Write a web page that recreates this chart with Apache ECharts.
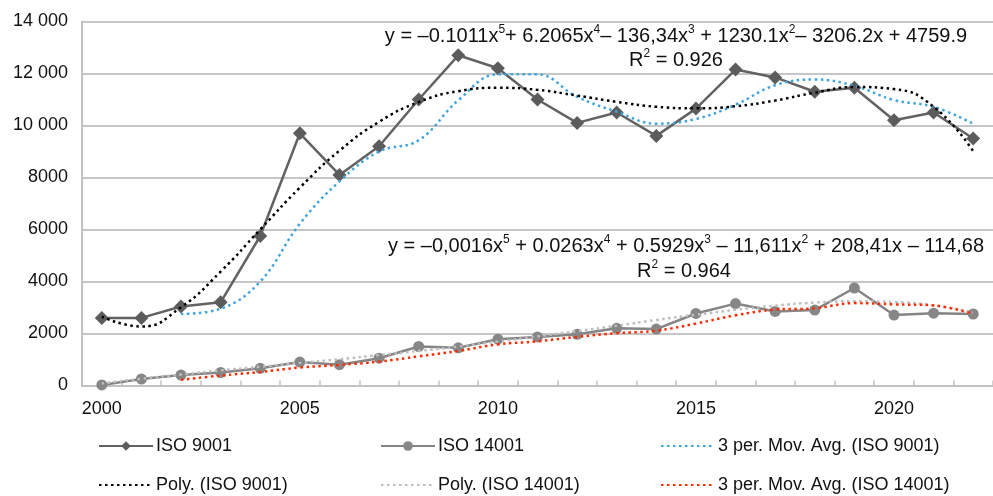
<!DOCTYPE html>
<html>
<head>
<meta charset="utf-8">
<script src="https://cdn.jsdelivr.net/npm/echarts@6/dist/echarts.min.js"></script>
<style>
  html, body { margin: 0; padding: 0; background: #fff; }
  #chart { width: 993px; height: 496px; }
</style>
</head>
<body>
<div id="chart"></div>
<script>
// ---- data ----
const years = ['2000','2001','2002','2003','2004','2005','2006','2007','2008','2009','2010','2011','2012','2013','2014','2015','2016','2017','2018','2019','2020','2021','2022'];
const iso9001 = [2600, 2600, 3040, 3200, 5750, 9700, 8100, 9200, 11000, 12700, 12200, 11000, 10100, 10500, 9600, 10650, 12150, 11850, 11300, 11450, 10200, 10500, 9500];
const iso14001 = [20, 250, 400, 500, 660, 900, 800, 1050, 1500, 1450, 1780, 1870, 1970, 2200, 2170, 2770, 3150, 2850, 2900, 3750, 2710, 2780, 2750];
const movAvg9001 = [null, null, 2750, 2950, 4000, 6220, 7850, 9000, 9430, 10970, 11970, 11970, 11100, 10530, 10070, 10250, 10800, 11550, 11770, 11530, 10980, 10720, 10070];
const movAvg14001 = [null, null, 220, 380, 520, 690, 790, 920, 1120, 1330, 1580, 1700, 1870, 2010, 2110, 2380, 2700, 2920, 2970, 3170, 3120, 3080, 2750];
const poly9001 = [2650, 2270, 3010, 4380, 6000, 7610, 9030, 10140, 10900, 11320, 11450, 11370, 11150, 10910, 10720, 10660, 10740, 10960, 11260, 11480, 11400, 10720, 9010];
const poly14001 = [80, 260, 420, 580, 720, 870, 1010, 1170, 1330, 1500, 1690, 1890, 2090, 2300, 2520, 2720, 2910, 3070, 3190, 3240, 3210, 3080, 2810];
const legendNames = ['ISO 9001', 'ISO 14001', '3 per. Mov. Avg. (ISO 9001)', 'Poly. (ISO 9001)', 'Poly. (ISO 14001)', '3 per. Mov. Avg. (ISO 14001)'];

const FONT = '"Liberation Sans", Arial, sans-serif';

const chart = echarts.init(document.getElementById('chart'), null, { renderer: 'canvas' });

const dotted = [2.5, 3.5];
const legendPos = [
  [98, 437], [380, 437], [660, 437],
  [98, 476], [380, 476], [660, 476]
];
const hasSymbol = [true, true, false, false, false, false];

const option = {
  animation: false,
  backgroundColor: '#fff',
  grid: { left: 82, top: 21.5, width: 919, height: 364 },
  legend: legendNames.map((n, i) => ({
    data: [n],
    left: legendPos[i][0],
    top: legendPos[i][1],
    padding: 0,
    itemWidth: 54,
    itemHeight: 12,
    itemGap: 0,
    selectedMode: false,
    itemStyle: hasSymbol[i] ? {} : { opacity: 0 },
    textStyle: { fontFamily: FONT, fontSize: 18, color: '#111', padding: [0, 0, 0, -2] }
  })),
  xAxis: {
    type: 'category',
    data: years,
    boundaryGap: true,
    axisLine: { lineStyle: { color: '#c2c2c2', width: 2 } },
    axisTick: { show: true, inside: true, length: 5, interval: 0, lineStyle: { color: '#c2c2c2', width: 1.5 } },
    axisLabel: { interval: 4, margin: 15, fontFamily: FONT, fontSize: 18, color: '#111' },
    splitLine: { show: false }
  },
  yAxis: {
    type: 'value',
    min: 0,
    max: 14000,
    interval: 2000,
    axisLine: { show: true, lineStyle: { color: '#c2c2c2', width: 2 } },
    axisTick: { show: false },
    axisLabel: {
      margin: 14,
      fontFamily: FONT,
      fontSize: 18,
      color: '#111',
      formatter: v => (v >= 10000 ? String(v).replace(/(\d+)(\d{3})$/, '$1 $2') : String(v))
    },
    splitLine: { lineStyle: { color: '#c6c6c6', width: 2 } }
  },
  series: [
    {
      name: 'ISO 9001', type: 'line', data: iso9001, z: 3,
      symbol: 'diamond', symbolSize: 14,
      lineStyle: { color: '#626262', width: 2.5 },
      itemStyle: { color: '#5c5c5c' }
    },
    {
      name: 'ISO 14001', type: 'line', data: iso14001, z: 3,
      symbol: 'circle', symbolSize: 11,
      lineStyle: { color: '#858585', width: 2.5 },
      itemStyle: { color: '#878787' }
    },
    {
      name: '3 per. Mov. Avg. (ISO 9001)', type: 'line', data: movAvg9001, z: 4,
      symbol: 'none', smooth: 0.4, connectNulls: false,
      lineStyle: { color: '#3fa4dd', width: 2.5, type: dotted },
      itemStyle: { color: '#3fa4dd' }
    },
    {
      name: 'Poly. (ISO 9001)', type: 'line', data: poly9001, z: 5,
      symbol: 'none', smooth: 0.5,
      lineStyle: { color: '#000000', width: 2.5, type: dotted },
      itemStyle: { color: '#000000' }
    },
    {
      name: 'Poly. (ISO 14001)', type: 'line', data: poly14001, z: 4,
      symbol: 'none', smooth: 0.5,
      lineStyle: { color: '#bdbdbd', width: 2.5, type: dotted },
      itemStyle: { color: '#bdbdbd' }
    },
    {
      name: '3 per. Mov. Avg. (ISO 14001)', type: 'line', data: movAvg14001, z: 5,
      symbol: 'none', smooth: 0.4,
      lineStyle: { color: '#ff2a00', width: 2.5, type: dotted },
      itemStyle: { color: '#ff2a00' }
    }
  ],
  graphic: [
    {
      type: 'text', z: 100,
      style: {
        x: 676, y: 35, align: 'center', verticalAlign: 'middle',
        text: '{a|y = –0.1011x}{s|5}{a|+ 6.2065x}{s|4}{a|– 136,34x}{s|3}{a| + 1230.1x}{s|2}{a|– 3206.2x + 4759.9}',
        rich: {
          a: { fontFamily: FONT, fontSize: 20, fill: '#111', lineHeight: 22, verticalAlign: 'bottom' },
          s: { fontFamily: FONT, fontSize: 12, fill: '#111', lineHeight: 22, verticalAlign: 'top' }
        }
      }
    },
    {
      type: 'text', z: 100,
      style: {
        x: 676, y: 59, align: 'center', verticalAlign: 'middle',
        text: '{a|R}{s|2}{a| = 0.926}',
        rich: {
          a: { fontFamily: FONT, fontSize: 20, fill: '#111', lineHeight: 22, verticalAlign: 'bottom' },
          s: { fontFamily: FONT, fontSize: 12, fill: '#111', lineHeight: 22, verticalAlign: 'top' }
        }
      }
    },
    {
      type: 'text', z: 100,
      style: {
        x: 686, y: 245, align: 'center', verticalAlign: 'middle',
        text: '{a|y = –0,0016x}{s|5}{a| + 0.0263x}{s|4}{a| + 0.5929x}{s|3}{a| – 11,611x}{s|2}{a| + 208,41x – 114,68}',
        rich: {
          a: { fontFamily: FONT, fontSize: 20, fill: '#111', lineHeight: 22, verticalAlign: 'bottom' },
          s: { fontFamily: FONT, fontSize: 12, fill: '#111', lineHeight: 22, verticalAlign: 'top' }
        }
      }
    },
    {
      type: 'text', z: 100,
      style: {
        x: 684, y: 270, align: 'center', verticalAlign: 'middle',
        text: '{a|R}{s|2}{a| = 0.964}',
        rich: {
          a: { fontFamily: FONT, fontSize: 20, fill: '#111', lineHeight: 22, verticalAlign: 'bottom' },
          s: { fontFamily: FONT, fontSize: 12, fill: '#111', lineHeight: 22, verticalAlign: 'top' }
        }
      }
    }
  ]
};

chart.setOption(option);
</script>
</body>
</html>
